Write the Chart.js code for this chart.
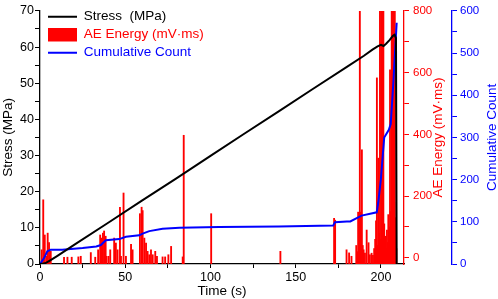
<!DOCTYPE html>
<html lang="en">
<head>
  <meta charset="UTF-8">
  <title>Stress, AE Energy and Cumulative Count</title>
  <script src="https://cdn.jsdelivr.net/npm/chart.js@4"></script>
  <style>
    html, body { margin: 0; padding: 0; background: #fff; }
    #wrap { width: 498px; height: 299px; }
  </style>
</head>
<body>
  <div id="wrap"><canvas id="chart"></canvas></div>
  <script>
    // Stress curve (time in s, MPa)
    const stressTime = [0, 3, 6, 10, 20, 40, 60, 80, 100, 120, 140, 160, 180, 190, 195, 198, 200, 201.5, 203, 205, 207, 208, 208.8, 209.2];
    const stressValue = [0, 0.2, 1.0, 2.2, 5.3, 11.4, 17.6, 23.7, 29.9, 36.1, 42.2, 48.4, 54.5, 57.6, 59.3, 60.2, 60.6, 60.3, 60.9, 61.9, 63.1, 63.4, 62.5, 0];

    // Cumulative count
    const countTime = [0, 0.5, 2.4, 4.3, 6.3, 13, 25, 33, 35.7, 38.6, 46.5, 50.4, 58.2, 60.2, 64.1, 71.9, 81.8, 105, 140, 172, 173, 180, 182, 188.6, 197.5, 198.4, 199.9, 201.9, 204.6, 205.7, 207.3, 209.2];
    const countValue = [0, 0, 14, 30, 34, 34, 38, 41.6, 45, 56.5, 59, 64.4, 68, 72, 78, 83.7, 86, 87.7, 89, 91.4, 99, 100.7, 101, 114.7, 122.5, 145.8, 200, 300, 318, 332, 433, 572];

    // AE energy hits (mV·ms)
    const aeTime = [1.0, 1.9, 2.8, 3.7, 4.5, 5.3, 5.9, 6.3,
      14.1, 16.1, 18.6, 22.5, 23.9, 29.8, 32.4, 34.1,
      35.3, 36.1, 36.9, 37.6, 38.5, 39.0, 40.2, 41.2,
      43.5, 44.5, 45.5, 46.9, 47.5, 49.0, 50.4,
      53.4, 54.3, 58.6, 59.6, 60.2, 61.2, 62.2, 63.1, 64.1, 65.1, 66.1, 67.6, 68.6,
      71.9, 73.4, 75.3, 76.9, 83.7, 84.3, 100.4,
      141, 172.5, 173.1, 179.8, 181.3, 182.7,
      185.5, 186.2, 186.6, 187.1, 187.6, 188.2, 188.8, 189.3, 189.8, 190.6, 191.6, 192.7, 193.5, 194.5, 195.3,
      196.0, 196.6, 197.1, 197.6, 198.0, 198.4, 198.8, 199.4, 199.8, 200.1, 200.4, 200.8, 201.1, 201.4, 201.9,
      202.3, 202.7, 203.1, 203.5, 203.9, 204.3, 204.7, 205.0, 205.3, 205.7, 206.0, 206.3, 206.6, 206.9, 207.2,
      207.5, 207.8, 208.1, 208.4, 208.7, 209.0];
    const aeValue = [26, 188, 74, 5, 80, 49, 8, 21,
      2, 2, 2, 3, 5, 17, 2, 26,
      74, 64, 80, 87, 70, 5, 5, 26,
      64, 48, 26, 164, 5, 210, 5,
      44, 26, 143, 164, 153, 64, 48, 21, 10, 26, 10, 21, 5,
      3, 3, 10, 37, 3, 397, 143,
      21, 128, 122, 26, 16, 5,
      40, 20, 148, 60, 900, 148, 350, 40, 26, 15, 90, 49, 10, 15, 8,
      30, 60, 120, 583, 40, 323, 80, 900, 60, 900, 110, 900, 70, 900, 110,
      40, 70, 30, 90, 50, 140, 70, 100, 609, 150, 60, 900, 120, 900, 250,
      900, 180, 900, 130, 60, 30];

    const labelColors = ['#000000', '#ff0000', '#0000ff'];
    const tickFont = { family: 'Liberation Sans, Arial, sans-serif', size: 12.5 };
    const sideFont = { family: 'Liberation Sans, Arial, sans-serif', size: 11.5 };
    const titleFont = { family: 'Liberation Sans, Arial, sans-serif', size: 13.5 };

    const toPoints = (xs, ys) => xs.map((x, i) => ({ x, y: ys[i] }));

    // right-hand axis titles read bottom-to-top, like the left one
    const sideTitles = {
      id: 'sideTitles',
      afterDraw(chart) {
        const ctx = chart.ctx;
        [['yE', 34], ['yC', 40]].forEach(([id, dx]) => {
          const s = chart.scales[id];
          const t = s.options.title;
          ctx.save();
          ctx.translate(s.left + dx, (s.top + s.bottom) / 2);
          ctx.rotate(-Math.PI / 2);
          ctx.font = titleFont.size + 'px ' + titleFont.family;
          ctx.fillStyle = t.color;
          ctx.textAlign = 'center';
          ctx.textBaseline = 'middle';
          ctx.fillText(t.text, 0, 0);
          ctx.restore();
        });
      }
    };

    // push the in-plot legend a little down and right
    const legendNudge = {
      id: 'legendNudge',
      afterLayout(chart) {
        chart.legend.left += 3.5;
        chart.legend.top += 5.5;
      }
    };

    new Chart(document.getElementById('chart'), {
      type: 'line',
      data: {
        datasets: [
          {
            label: 'Stress  (MPa)',
            data: toPoints(stressTime, stressValue),
            yAxisID: 'y',
            borderColor: '#000000',
            backgroundColor: '#000000',
            borderWidth: 2,
            pointRadius: 0,
            pointStyle: 'line',
            tension: 0
          },
          {
            type: 'bar',
            label: 'AE Energy (mV·ms)',
            data: toPoints(aeTime, aeValue),
            yAxisID: 'yE',
            backgroundColor: '#ff0000',
            borderWidth: 0,
            barThickness: 1.2,
            base: -20,
            order: 1,
            pointStyle: 'rect'
          },
          {
            label: 'Cumulative Count',
            data: toPoints(countTime, countValue),
            yAxisID: 'yC',
            borderColor: '#0000ff',
            backgroundColor: '#0000ff',
            borderWidth: 2,
            pointRadius: 0,
            pointStyle: 'line',
            tension: 0
          }
        ]
      },
      options: {
        responsive: true,
        maintainAspectRatio: false,
        animation: false,
        events: [],
        layout: { padding: 0 },
        plugins: {
          tooltip: { enabled: false },
          legend: {
            position: 'chartArea',
            align: 'start',
            labels: {
              usePointStyle: true,
              pointStyleWidth: 29,
              boxHeight: 14,
              padding: 4.5,
              font: titleFont,
              sort: (a, b) => a.datasetIndex - b.datasetIndex,
              generateLabels(chart) {
                const items = Chart.defaults.plugins.legend.labels.generateLabels(chart);
                items.forEach(it => { it.fontColor = labelColors[it.datasetIndex]; });
                return items;
              }
            }
          }
        },
        scales: {
          x: {
            type: 'linear',
            min: 0,
            max: 213.5,
            offset: false,
            border: { color: '#000', width: 1.3 },
            grid: { drawOnChartArea: false, offset: false, tickLength: 4, color: '#000' },
            ticks: {
              stepSize: 25,
              includeBounds: false,
              autoSkip: false,
              maxRotation: 0,
              padding: 2,
              color: '#000',
              font: tickFont,
              callback: v => (v % 50 === 0 ? v : '')
            },
            title: { display: true, text: 'Time (s)', color: '#000', font: titleFont, padding: 0 },
            afterFit: s => { s.height = 35; }
          },
          y: {
            position: 'left',
            min: 0,
            max: 70,
            border: { color: '#000', width: 1.3 },
            grid: { drawOnChartArea: false, tickLength: 5, color: '#000' },
            ticks: {
              stepSize: 5,
              includeBounds: false,
              padding: 1,
              color: '#000',
              font: tickFont,
              callback: v => (v % 10 === 0 ? v : '')
            },
            title: { display: true, text: 'Stress (MPa)', color: '#000', font: titleFont, padding: 0 },
            afterFit: s => { s.width = 40; }
          },
          yE: {
            position: 'right',
            weight: 0,
            min: -20,
            max: 800,
            border: { color: '#ff0000', width: 1.3 },
            grid: { drawOnChartArea: false, tickLength: 5, color: '#ff0000' },
            ticks: {
              stepSize: 100,
              includeBounds: false,
              padding: 4,
              color: '#ff0000',
              font: sideFont,
              callback: v => (v % 200 === 0 ? v : '')
            },
            title: { display: false, text: 'AE Energy (mV·ms)', color: '#ff0000' },
            afterFit: s => { s.width = 48; }
          },
          yC: {
            position: 'right',
            weight: 1,
            min: 0,
            max: 600,
            border: { color: '#0000ff', width: 1.3 },
            grid: { drawOnChartArea: false, tickLength: 5, color: '#0000ff' },
            ticks: {
              stepSize: 50,
              includeBounds: false,
              padding: 3,
              color: '#0000ff',
              font: sideFont,
              callback: v => (v % 100 === 0 ? v : '')
            },
            title: { display: false, text: 'Cumulative Count', color: '#0000ff' },
            afterFit: s => { s.width = 46; }
          }
        }
      },
      plugins: [sideTitles, legendNudge]
    });
  </script>
</body>
</html>
